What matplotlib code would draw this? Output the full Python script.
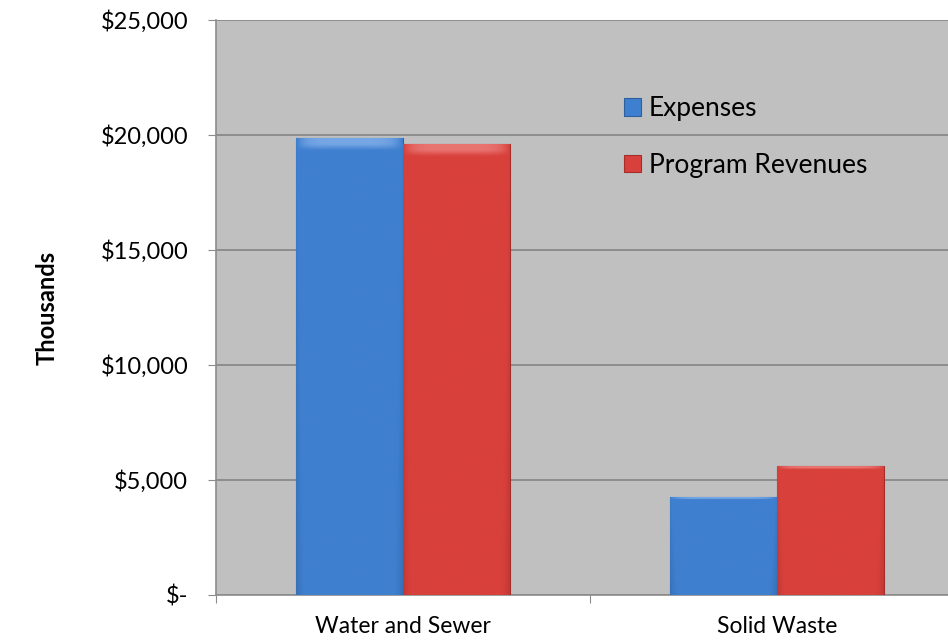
import numpy as np
import matplotlib.pyplot as plt
from matplotlib.colors import LinearSegmentedColormap

plt.rcParams['font.family'] = ['Lato', 'DejaVu Sans']

categories = ["Water and Sewer", "Solid Waste"]
expenses = [19850, 4250]
revenues = [19600, 5600]
series_names = ["Expenses", "Program Revenues"]
yticks = [0, 5000, 10000, 15000, 20000, 25000]
ytick_labels = ["$-", "$5,000", "$10,000", "$15,000", "$20,000", "$25,000"]

fig = plt.figure(figsize=(9.48, 6.41), dpi=100)
# right edge runs slightly past the figure, as in the original layout
ax = fig.add_axes([216/948, 1 - 595/641, 748/948, 575/641])
ax.set_facecolor('#C0C0C0')

x = np.arange(len(categories))
w = 0.285
colors = [('#3F7FCF', '#8DB8EE', '#2E5F9E'), ('#D8403B', '#F08A86', '#A32E2A')]


def shade(bars, base, light, dark):
    cmap = LinearSegmentedColormap.from_list('b', [dark, base, base, light])
    for b in bars:
        x0, y0 = b.get_x(), b.get_y()
        bw, bh = b.get_width(), b.get_height()
        # horizontal shading: darker at the edges
        g = np.linspace(-1, 1, 200)
        row = 0.55 - 0.25 * np.abs(g) ** 6
        img = np.tile(row, (50, 1))
        # top bevel and darker bottom
        yy = np.linspace(0, 1, 50)[:, None]
        img = img - 0.12 * (1 - yy)
        top = max(1, int(50 * min(1.0, 120 / max(bh, 1)) * 0.15))
        img[-top:, :] += 0.35
        im = ax.imshow(img, cmap=cmap, vmin=0, vmax=1, origin='lower',
                       extent=[x0, x0 + bw, y0, y0 + bh], aspect='auto', zorder=3)
        im.set_clip_path(b)
        b.set_edgecolor(dark)
        b.set_linewidth(0.8)


b1 = ax.bar(x - w/2, expenses, w, color=colors[0][0], label=series_names[0], zorder=3)
b2 = ax.bar(x + w/2, revenues, w, color=colors[1][0], label=series_names[1], zorder=3)
shade(b1, *colors[0])
shade(b2, *colors[1])

ax.set_xlim(-0.5, 1.5)
ax.set_ylim(0, 25000)
ax.set_yticks(yticks)
ax.set_yticklabels(ytick_labels, fontsize=17)
ax.yaxis.grid(True, color='#858585', linewidth=1.2)
ax.set_axisbelow(True)

ax.set_xticks([-0.5, 0.5, 1.5])
ax.set_xticklabels([])
ax.set_xticks(x, minor=True)
ax.set_xticklabels(categories, minor=True, fontsize=16.5)
ax.tick_params(axis='x', which='minor', length=0, pad=15)
ax.tick_params(axis='x', which='major', length=6, color='#8C8C8C')
ax.tick_params(axis='y', length=6, color='#8C8C8C', pad=14)

for s in ['top', 'right']:
    ax.spines[s].set_visible(False)
for s in ['left', 'bottom']:
    ax.spines[s].set_color('#8C8C8C')
    ax.spines[s].set_linewidth(1.2)

ax.set_ylabel("Thousands", fontsize=17, fontweight='bold', labelpad=30)

leg = fig.legend(handles=[b1, b2], labels=series_names, loc='upper left',
                 bbox_to_anchor=(624/948, 1 - 96/641), frameon=False,
                 fontsize=19, handlelength=0.65, handleheight=0.65,
                 handletextpad=0.3, labelspacing=1.2, borderpad=0, borderaxespad=0)

fig.savefig('out.png', dpi=100)
